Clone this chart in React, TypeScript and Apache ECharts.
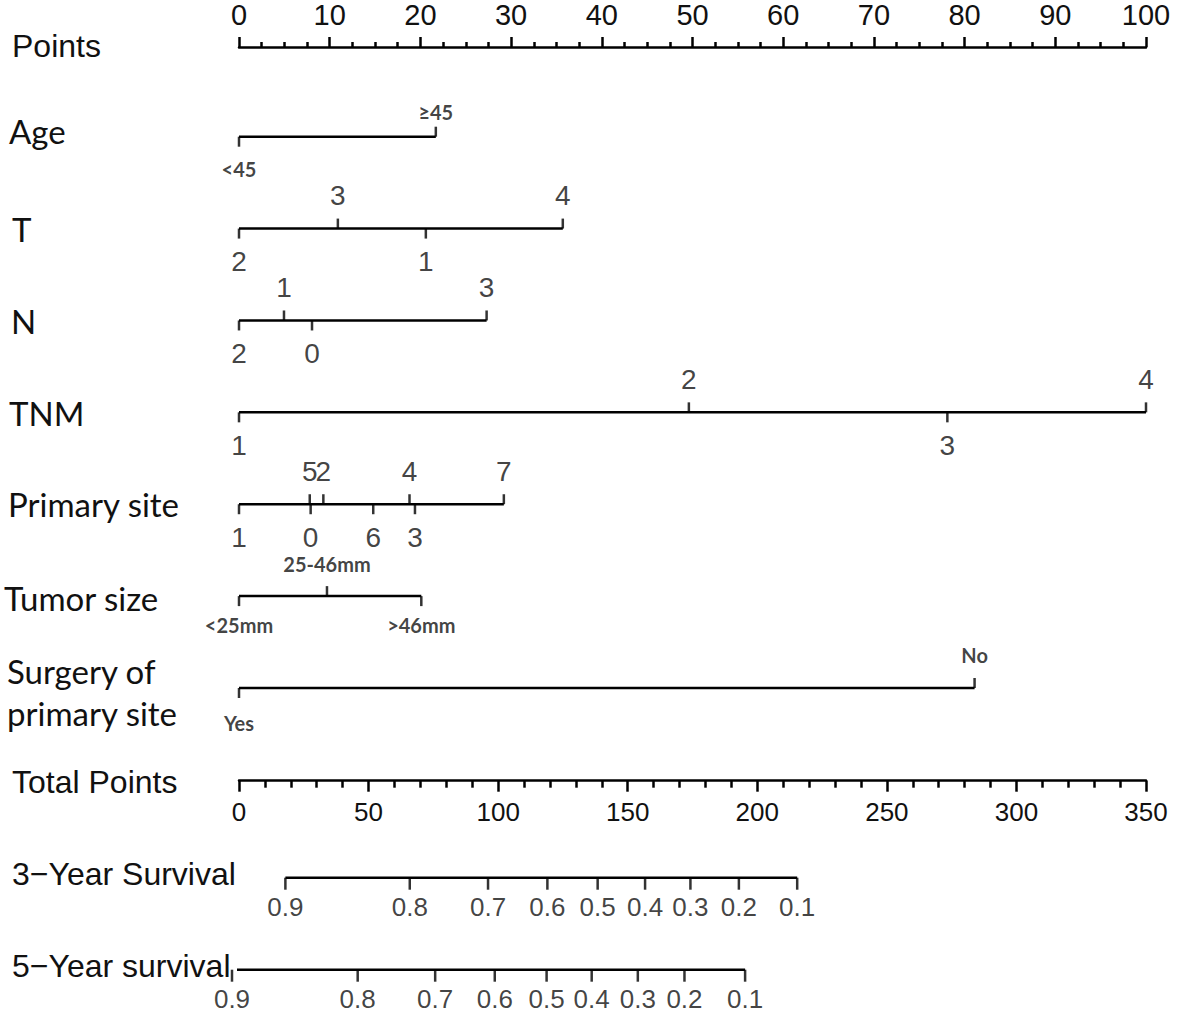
import React, { useEffect, useRef } from "react";
import * as echarts from "echarts";

// ---- scales ----
const pointsMin = 0;
const pointsMax = 100;
const pointsInterval = 10;
const totalMin = 0;
const totalMax = 350;
const totalInterval = 50;

// ---- predictors (level labels and their points) ----
const ageLevels = ["<45", "≥45"];
const agePoints = [0, 21.7];
const tLevels = ["2", "3", "1", "4"];
const tPoints = [0, 10.9, 20.6, 35.7];
const nLevels = ["2", "1", "0", "3"];
const nPoints = [0, 4.96, 8.05, 27.3];
const tnmLevels = ["1", "2", "3", "4"];
const tnmPoints = [0, 49.6, 78.1, 100];
const siteLevels = ["1", "5", "0", "2", "6", "4", "3", "7"];
const sitePoints = [0, 7.8, 7.9, 9.3, 14.8, 18.8, 19.4, 29.2];
const sizeLevels = ["<25mm", "25-46mm", ">46mm"];
const sizePoints = [0, 9.7, 20.1];
const surgeryLevels = ["Yes", "No"];
const surgeryPoints = [0, 81.1];

// ---- survival scales (probability -> total points) ----
const survivalLabels = ["0.9", "0.8", "0.7", "0.6", "0.5", "0.4", "0.3", "0.2", "0.1"];
const surv3Total = [17.9, 65.9, 96.1, 119.0, 138.4, 156.7, 174.2, 192.9, 215.4];
const surv5Total = [-2.7, 45.8, 75.7, 98.7, 118.7, 136.1, 153.9, 171.9, 195.3];

const ARIAL = "Arial, Liberation Sans, sans-serif";
const CALIBRI = "Lato, Open Sans, sans-serif";

const rows = [
  { levels: ageLevels, pts: agePoints, bold: true, gap: [5, 12] },
  { levels: tLevels, pts: tPoints, bold: false, gap: [9, 9] },
  { levels: nLevels, pts: nPoints, bold: false, gap: [9, 9] },
  { levels: tnmLevels, pts: tnmPoints, bold: false, gap: [9, 9] },
  { levels: siteLevels, pts: sitePoints, bold: false, gap: [9, 9] },
  { levels: sizeLevels, pts: sizePoints, bold: true, gap: [12, 9] },
  { levels: surgeryLevels, pts: surgeryPoints, bold: true, gap: [13, 15] },
];

const leftLabels: { text: string; x: number; y: number; font: string; size: number }[] = [
  { text: "Points", x: 12, y: 46, font: ARIAL, size: 32 },
  { text: "Age", x: 9, y: 131, font: CALIBRI, size: 33 },
  { text: "T", x: 12, y: 229, font: CALIBRI, size: 33 },
  { text: "N", x: 11, y: 321, font: CALIBRI, size: 33 },
  { text: "TNM", x: 9, y: 413, font: CALIBRI, size: 33 },
  { text: "Primary site", x: 8, y: 504, font: CALIBRI, size: 33 },
  { text: "Tumor size", x: 4, y: 598, font: CALIBRI, size: 33 },
  { text: "Surgery of", x: 7, y: 671, font: CALIBRI, size: 33 },
  { text: "primary site", x: 7, y: 713, font: CALIBRI, size: 33 },
  { text: "Total Points", x: 12, y: 782, font: ARIAL, size: 32 },
  { text: "3\u2212Year Survival", x: 12, y: 874, font: ARIAL, size: 32 },
  { text: "5\u2212Year survival", x: 12, y: 966, font: ARIAL, size: 32 },
];

const LEFT = 239;
const WIDTH = 907;

function buildOption() {
  const series: any[] = [];

  rows.forEach((r, i) => {
    const lo = Math.min(...r.pts);
    const hi = Math.max(...r.pts);
    series.push({
      type: "line",
      xAxisIndex: 1,
      yAxisIndex: 1,
      data: [
        [lo, i],
        [hi, i],
      ],
      symbol: "none",
      lineStyle: { color: "#000", width: 2.5 },
      clip: false,
      silent: true,
    });
    const order = r.pts.map((_, k) => k).sort((a, b) => r.pts[a] - r.pts[b]);
    const data = r.levels.map((lv, k) => {
      const up = order.indexOf(k) % 2 === 1;
      return {
        value: [r.pts[k], i],
        symbolOffset: [0, up ? -5 : 5],
        label: {
          position: up ? "top" : "bottom",
          distance: up ? r.gap[0] : r.gap[1],
          formatter: lv,
        },
      };
    });
    series.push({
      type: "scatter",
      xAxisIndex: 1,
      yAxisIndex: 1,
      symbol: "rect",
      symbolSize: [2.5, 10],
      itemStyle: { color: "#000" },
      clip: false,
      silent: true,
      label: {
        show: true,
        color: "#111",
        fontFamily: r.bold ? CALIBRI : ARIAL,
        fontSize: r.bold ? 20 : 28,
        fontWeight: r.bold ? "bold" : "normal",
      },
      data,
    });
  });

  [surv3Total, surv5Total].forEach((s, i) => {
    series.push({
      type: "line",
      xAxisIndex: 3,
      yAxisIndex: 3,
      data: [
        [s[0], i],
        [s[s.length - 1], i],
      ],
      symbol: "none",
      lineStyle: { color: "#000", width: 2.5 },
      clip: false,
      silent: true,
    });
    series.push({
      type: "scatter",
      xAxisIndex: 3,
      yAxisIndex: 3,
      symbol: "rect",
      symbolSize: [2.5, 12],
      symbolOffset: [0, 6],
      itemStyle: { color: "#000" },
      clip: false,
      silent: true,
      label: {
        show: true,
        position: "bottom",
        distance: 4,
        color: "#111",
        fontFamily: ARIAL,
        fontSize: 26,
        formatter: (p: any) => survivalLabels[p.dataIndex],
      },
      data: s.map((v) => [v, i]),
    });
  });

  const hiddenY = (min: number, max: number, inverse: boolean, gridIndex: number) => ({
    type: "value",
    gridIndex,
    min,
    max,
    inverse,
    show: false,
  });

  return {
    animation: false,
    backgroundColor: "#fff",
    grid: [
      { left: LEFT, width: WIDTH, top: 45, height: 40 },
      { left: LEFT, width: WIDTH, top: 136.7, height: 551.3 },
      { left: LEFT, width: WIDTH, top: 700, height: 80.7 },
      { left: LEFT, width: WIDTH, top: 877.7, height: 92 },
    ],
    xAxis: [
      {
        type: "value",
        gridIndex: 0,
        position: "top",
        min: pointsMin,
        max: pointsMax,
        interval: pointsInterval,
        axisLine: { show: true, onZero: false, lineStyle: { color: "#000", width: 2.5 } },
        axisTick: { show: true, length: 10, lineStyle: { color: "#000", width: 2.5 } },
        minorTick: { show: true, splitNumber: 4, length: 5, lineStyle: { color: "#000", width: 2.5 } },
        splitLine: { show: false },
        axisLabel: { fontSize: 29, fontFamily: ARIAL, color: "#111", margin: 18 },
      },
      { type: "value", gridIndex: 1, min: pointsMin, max: pointsMax, show: false },
      {
        type: "value",
        gridIndex: 2,
        position: "bottom",
        min: totalMin,
        max: totalMax,
        interval: totalInterval,
        axisLine: { show: true, onZero: false, lineStyle: { color: "#000", width: 2.5 } },
        axisTick: { show: true, length: 11, lineStyle: { color: "#000", width: 2.5 } },
        minorTick: { show: true, splitNumber: 5, length: 7, lineStyle: { color: "#000", width: 2.5 } },
        splitLine: { show: false },
        axisLabel: { fontSize: 26, fontFamily: ARIAL, color: "#111", margin: 18 },
      },
      { type: "value", gridIndex: 3, min: totalMin, max: totalMax, show: false },
    ],
    yAxis: [
      hiddenY(0, 1, false, 0),
      hiddenY(0, rows.length - 1, true, 1),
      hiddenY(0, 1, false, 2),
      hiddenY(0, 1, true, 3),
    ],
    graphic: leftLabels.map((l) => ({
      type: "text",
      x: l.x,
      y: l.y,
      silent: true,
      style: {
        text: l.text,
        fill: "#111",
        fontSize: l.size,
        fontFamily: l.font,
        verticalAlign: "middle",
      },
    })),
    series,
  };
}

export default function App() {
  const ref = useRef<HTMLDivElement>(null);
  useEffect(() => {
    if (!ref.current) return;
    const chart = echarts.init(ref.current, undefined, { renderer: "svg" });
    chart.setOption(buildOption() as any);
    return () => chart.dispose();
  }, []);
  return (
    <div
      ref={ref}
      style={{ position: "fixed", left: 0, top: 0, width: 1181, height: 1018, background: "#fff" }}
    />
  );
}
